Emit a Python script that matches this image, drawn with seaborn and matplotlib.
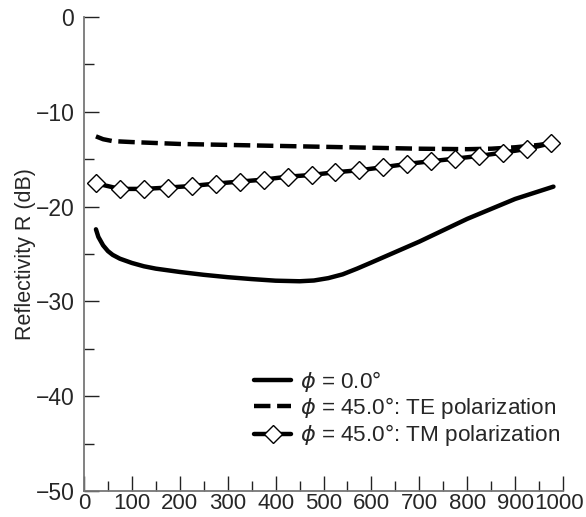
import numpy as np
import pandas as pd
import matplotlib
matplotlib.use("Agg")
import matplotlib.pyplot as plt
import matplotlib.transforms as mtransforms
import seaborn as sns
from matplotlib.ticker import MultipleLocator

# ---- data ----
x_solid = [25, 30, 40, 50, 60, 75, 100, 125, 150, 200, 250, 300, 350, 400,
           450, 480, 510, 540, 570, 600, 650, 700, 800, 900, 980]
r_solid = [-22.4, -23.2, -24.1, -24.7, -25.1, -25.5, -25.95, -26.3, -26.55,
           -26.9, -27.2, -27.45, -27.65, -27.82, -27.88, -27.8, -27.55,
           -27.15, -26.55, -25.9, -24.8, -23.7, -21.3, -19.2, -17.9]

x_te = [25, 40, 60, 80, 100, 150, 200, 300, 400, 500, 600, 700, 800, 850,
        900, 950, 975]
r_te = [-12.6, -12.9, -13.1, -13.15, -13.2, -13.3, -13.4, -13.5, -13.6, -13.7,
        -13.8, -13.9, -13.95, -13.9, -13.75, -13.5, -13.3]

x_tm = [25, 75, 125, 175, 225, 275, 325, 375, 425, 475, 525, 575, 625, 675,
        725, 775, 825, 875, 925, 975]
r_tm = [-17.55, -18.14, -18.14, -18.0, -17.83, -17.58, -17.37, -17.16,
        -16.85, -16.67, -16.38, -16.17, -15.85, -15.5, -15.22, -14.95,
        -14.66, -14.31, -13.92, -13.32]

labels = [r"$\phi$ = 0.0°", r"$\phi$ = 45.0°: TE polarization",
          r"$\phi$ = 45.0°: TM polarization"]
x_ticks = list(range(0, 1001, 100))
y_ticks = list(range(-50, 1, 10))

# ---- style ----
sns.set_style("ticks")
plt.rcParams["font.family"] = ["Liberation Sans", "DejaVu Sans"]
plt.rcParams["mathtext.fontset"] = "dejavusans"

fig = plt.figure(figsize=(5.86, 5.17), dpi=100)
ax = fig.add_axes([0.1433, 0.0503, 0.8175, 0.9170])

df_s = pd.DataFrame({"x": x_solid, "r": r_solid})
df_te = pd.DataFrame({"x": x_te, "r": r_te})
df_tm = pd.DataFrame({"x": x_tm, "r": r_tm})

sns.lineplot(data=df_s, x="x", y="r", ax=ax, color="black", linewidth=3.2,
             label=labels[0])
sns.lineplot(data=df_te, x="x", y="r", ax=ax, color="black", linewidth=3.2,
             linestyle=(0, (3.7, 1.5)), label=labels[1])
sns.lineplot(data=df_tm, x="x", y="r", ax=ax, color="black", linewidth=3.2,
             marker="D", markersize=9, markerfacecolor="white",
             markeredgecolor="black", markeredgewidth=1.0, label=labels[2])

ax.set_xlim(0, 1000)
ax.set_ylim(-50, 0)
ax.set_xticks(x_ticks)
ax.set_yticks(y_ticks)
ax.xaxis.set_minor_locator(MultipleLocator(50))
ax.yaxis.set_minor_locator(MultipleLocator(5))
ax.tick_params(which="both", direction="in", color="#222222", width=1.0,
               labelsize=16.5)
ax.tick_params(axis="x", labelsize=16)
ax.tick_params(which="major", length=11)
ax.tick_params(which="minor", length=7.5)
ax.tick_params(axis="y", pad=7)
ax.tick_params(axis="x", pad=1.5)

# nudge the last x tick label slightly left so it stays inside the canvas
last = ax.get_xticklabels()[-1]
last.set_transform(last.get_transform() +
                   mtransforms.ScaledTranslation(-4 / 100, 0, fig.dpi_scale_trans))

for s in ["top", "right"]:
    ax.spines[s].set_visible(False)
for s in ["left", "bottom"]:
    ax.spines[s].set_color("#777777")
    ax.spines[s].set_linewidth(1.3)

ax.set_xlabel("")
ax.set_ylabel("Reflectivity R (dB)", fontsize=15.5)
ax.yaxis.set_label_coords(-0.100, 0.5)

ax.legend(loc="upper left", bbox_to_anchor=(0.355, 0.257), frameon=False,
          fontsize=16.2, handlelength=1.65, handletextpad=0.4,
          labelspacing=0.05, borderpad=0, borderaxespad=0)

fig.savefig("out.png", dpi=100)
